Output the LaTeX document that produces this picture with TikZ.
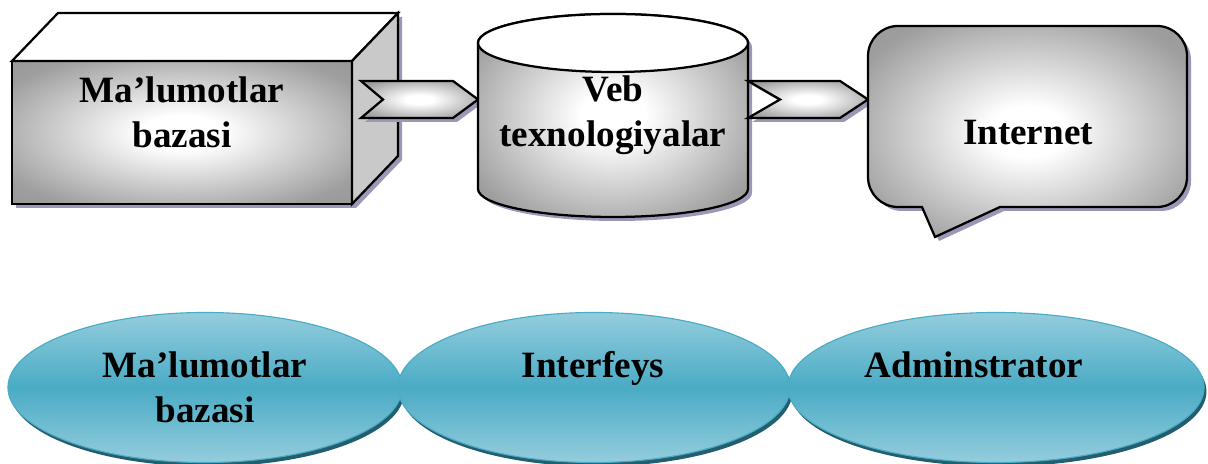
\documentclass[tikz,border=0pt]{standalone}
\usepackage{fontspec}
\setmainfont{Liberation Serif}
\usetikzlibrary{calc,shapes.geometric,shadows}

\definecolor{shadowgrey}{RGB}{158,150,182}
\definecolor{aqualight}{RGB}{148,205,221}
\definecolor{aquamid}{RGB}{74,171,197}
\definecolor{aquadark}{RGB}{36,94,110}

\pgfdeclareradialshading{greyglow}{\pgfpoint{0bp}{0bp}}{%
  color(0bp)=(white); color(6bp)=(white);
  color(30bp)=(black!38); color(50bp)=(black!45)}

\tikzset{
  face/.style={draw=black, line width=1.6pt, line join=miter},
  glow/.style={face, shade, shading=greyglow},
  greyshadow/.style={drop shadow={shadow xshift=0.1cm, shadow yshift=-0.1cm,
      fill=shadowgrey, opacity=1}},
  blob/.style={ellipse, draw=aquamid, line width=0.8pt, inner sep=0pt,
    top color=aqualight, bottom color=aqualight, middle color=aquamid,
    drop shadow={shadow xshift=0.06cm, shadow yshift=-0.1cm,
      fill=aquadark, opacity=1}},
  caption/.style={font=\fontsize{26.4}{32}\selectfont\bfseries, align=center},
}

% tail, tip, notch depth, head length
\newcommand\chevron[4]{%
  \path[glow, greyshadow]
    ($(#1)+(0,18.5)$) -- ($(#2)+(-#4,18.5)$) -- (#2)
    -- ($(#2)+(-#4,-18.5)$) -- ($(#1)+(0,-18.5)$)
    -- ($(#1)+(#3,0)$) -- cycle;}

\begin{document}
\begin{tikzpicture}[x=0.025cm, y=0.025cm]
    \useasboundingbox (0,0) rectangle (1208,464);

    % box
    \fill[shadowgrey, shift={(4,-4)}]
        (12,260) -- (12,403) -- (58,451) -- (398,451) -- (398,308) -- (352,260) -- cycle;
    \path[glow] (12,260) rectangle (352,403);
    \draw[face, fill=white] (12,403) -- (58,451) -- (398,451) -- (352,403) -- cycle;
    \draw[face, fill=black!21] (352,403) -- (398,451) -- (398,308) -- (352,260) -- cycle;
    \node[
        caption,
        name=db
    ] at (182,352) {Ma’lumotlar\\bazasi};

    \coordinate (dbside) at (361,364.5);
    \coordinate (webwest) at (478,364.5);
    \coordinate (webeast) at (748,364.5);
    \coordinate (inetwest) at (868,364.5);

    \chevron{dbside}{webwest}{22}{25}

    % cylinder
    \path[glow, greyshadow]
        (478,421) -- (478,275)
        arc[start angle=180, end angle=360, x radius=135, y radius=28]
        -- (748,421)
        arc[start angle=0, end angle=180, x radius=135, y radius=29] -- cycle;
    \draw[face, fill=white] (613,421) ellipse[x radius=135, y radius=29];
    \node[
        caption,
        name=web
    ] at (613,349) {Veb\\texnologiyalar};

    \chevron{webeast}{inetwest}{32}{28}

    % callout
    \path[glow, greyshadow]
        (922,257) -- (935,227) -- (1000,257) -- (1157,257)
        arc[start angle=270, end angle=360, radius=30] -- (1187,408)
        arc[start angle=0, end angle=90, radius=30] -- (898,438)
        arc[start angle=90, end angle=180, radius=30] -- (868,287)
        arc[start angle=180, end angle=270, radius=30] -- cycle;
    \node[
        caption,
        name=inet
    ] at (1028,331) {Internet};

    % ovals
    \node[
        blob,
        minimum width=9.85cm,
        minimum height=3.75cm,
        name=ovaldb
    ] at (205,76.5) {};
    \node[
        blob,
        minimum width=9.8cm,
        minimum height=3.75cm,
        name=ovalui
    ] at (594,76.5) {};
    \node[
        blob,
        minimum width=10.4cm,
        minimum height=3.75cm,
        name=ovaladm
    ] at (996,76.5) {};

    \node[
        caption,
        name=dbtext
    ] at (205,77) {Ma’lumotlar\\bazasi};
    \node[
        caption,
        anchor=base,
        name=uitext
    ] at (593,86) {Interfeys};
    \node[
        caption,
        anchor=base,
        name=admtext
    ] at (974,86) {Adminstrator};
\end{tikzpicture}
\end{document}
